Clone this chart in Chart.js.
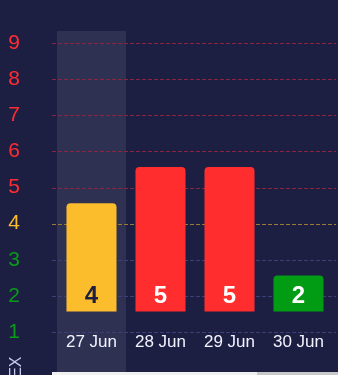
<!DOCTYPE html>
<html lang="en">

<head>
    <meta charset="UTF-8">
    <title>UV index</title>
    <script src="https://cdn.jsdelivr.net/npm/chart.js"></script>
    <style>
        body { margin: 0; background: #1d1f42; overflow: hidden; }
        .box { position: relative; width: 338px; height: 375px; }
        .barra { position: absolute; bottom: 0; height: 3px; }
    </style>
</head>

<body>
    <div class="box">
        <canvas id="uv" width="338" height="375"></canvas>
        <div class="barra" style="left:52px; width:205px; background:#f1f1f1;"></div>
        <div class="barra" style="left:257px; width:81px; background:#c9c9c9;"></div>
    </div>

<script>
    // dados
    var dias = ["27 Jun", "28 Jun", "29 Jun", "30 Jun"];
    var indices = [4, 5, 5, 2];
    var ticksY = [1, 2, 3, 4, 5, 6, 7, 8, 9];

    function corNivel(v) {
        if (v >= 5) return '#ff2d33';
        if (v >= 4) return '#fbbd2c';
        return '#0a9a1a';
    }
    function corGrade(v) {
        if (v >= 5) return '#8a2541';
        if (v >= 4) return '#9a7a35';
        return '#3b4078';
    }
    function corBarra(v) {
        if (v >= 5) return '#ff2d2d';
        if (v >= 4) return '#fbbd2c';
        return '#019c13';
    }

    // fundo do dia atual
    const destaque = {
        id: 'destaque',
        beforeDraw(chart) {
            const ctx = chart.ctx;
            const x = chart.scales.x;
            const meio = x.getPixelForValue(0);
            const larg = x.width / dias.length;
            ctx.save();
            ctx.fillStyle = '#2e3152';
            ctx.fillRect(meio - larg / 2, 31, larg, chart.height - 31);
            ctx.restore();
        }
    };

    // linhas tracejadas de cada nivel
    const grade = {
        id: 'grade',
        beforeDatasetsDraw(chart) {
            const ctx = chart.ctx;
            const y = chart.scales.y;
            ctx.save();
            ctx.setLineDash([4, 2]);
            ctx.lineWidth = 1;
            ticksY.forEach(function (v) {
                const py = Math.round(y.getPixelForValue(v)) + 0.5;
                ctx.strokeStyle = corGrade(v);
                ctx.beginPath();
                ctx.moveTo(52, py);
                ctx.lineTo(chart.width - 2, py);
                ctx.stroke();
            });
            ctx.restore();
        }
    };

    // valores dentro das barras + titulo do eixo
    const rotulos = {
        id: 'rotulos',
        afterDatasetsDraw(chart) {
            const ctx = chart.ctx;
            const meta = chart.getDatasetMeta(0);
            ctx.save();
            ctx.font = 'bold 24px "Liberation Sans", Arial, sans-serif';
            ctx.textAlign = 'center';
            ctx.textBaseline = 'middle';
            meta.data.forEach(function (bar, i) {
                const v = indices[i];
                ctx.fillStyle = v == 4 ? '#1d1f42' : '#ffffff';
                ctx.fillText(String(v), bar.x, bar.base - 15);
            });
            ctx.translate(20.5, 356.5);
            ctx.rotate(-Math.PI / 2);
            ctx.font = '16px "Liberation Sans", Arial, sans-serif';
            ctx.fillStyle = '#c8c8f0';
            ctx.textAlign = 'right';
            ctx.textBaseline = 'alphabetic';
            ctx.fillText('UV INDEX', 0, 0);
            ctx.restore();
        }
    };

    new Chart(document.getElementById('uv'), {
        type: 'bar',
        data: {
            labels: dias,
            datasets: [{
                data: indices,
                base: 1,
                yAxisID: 'y1',
                backgroundColor: indices.map(corBarra),
                borderRadius: { topLeft: 4, topRight: 4, bottomLeft: 0, bottomRight: 0 },
                borderSkipped: false,
                categoryPercentage: 1,
                barPercentage: 0.725
            }]
        },
        options: {
            responsive: false,
            animation: false,
            layout: { padding: { top: 43, right: 5, bottom: 22.6, left: 0 } },
            plugins: { legend: { display: false }, tooltip: { enabled: false } },
            scales: {
                x: {
                    grid: { display: false, drawTicks: false },
                    border: { display: false },
                    ticks: {
                        color: '#f2f2ff',
                        padding: 0,
                        font: { size: 17, family: '"Liberation Sans", Arial, sans-serif' }
                    }
                },
                y: {
                    min: ticksY[0],
                    max: ticksY[ticksY.length - 1],
                    afterFit: function (s) { s.width = 57; s.paddingTop = 0; s.paddingBottom = 0; },
                    border: { display: false },
                    grid: { display: false, drawTicks: false },
                    ticks: {
                        stepSize: 1,
                        padding: 37,
                        color: function (c) { return corNivel(c.tick.value); },
                        font: { size: 21, family: '"Liberation Sans", Arial, sans-serif' }
                    }
                },
                y1: {
                    display: false,
                    min: 0.433,
                    max: 8.433
                }
            }
        },
        plugins: [destaque, grade, rotulos]
    });
</script>
</body>

</html>
